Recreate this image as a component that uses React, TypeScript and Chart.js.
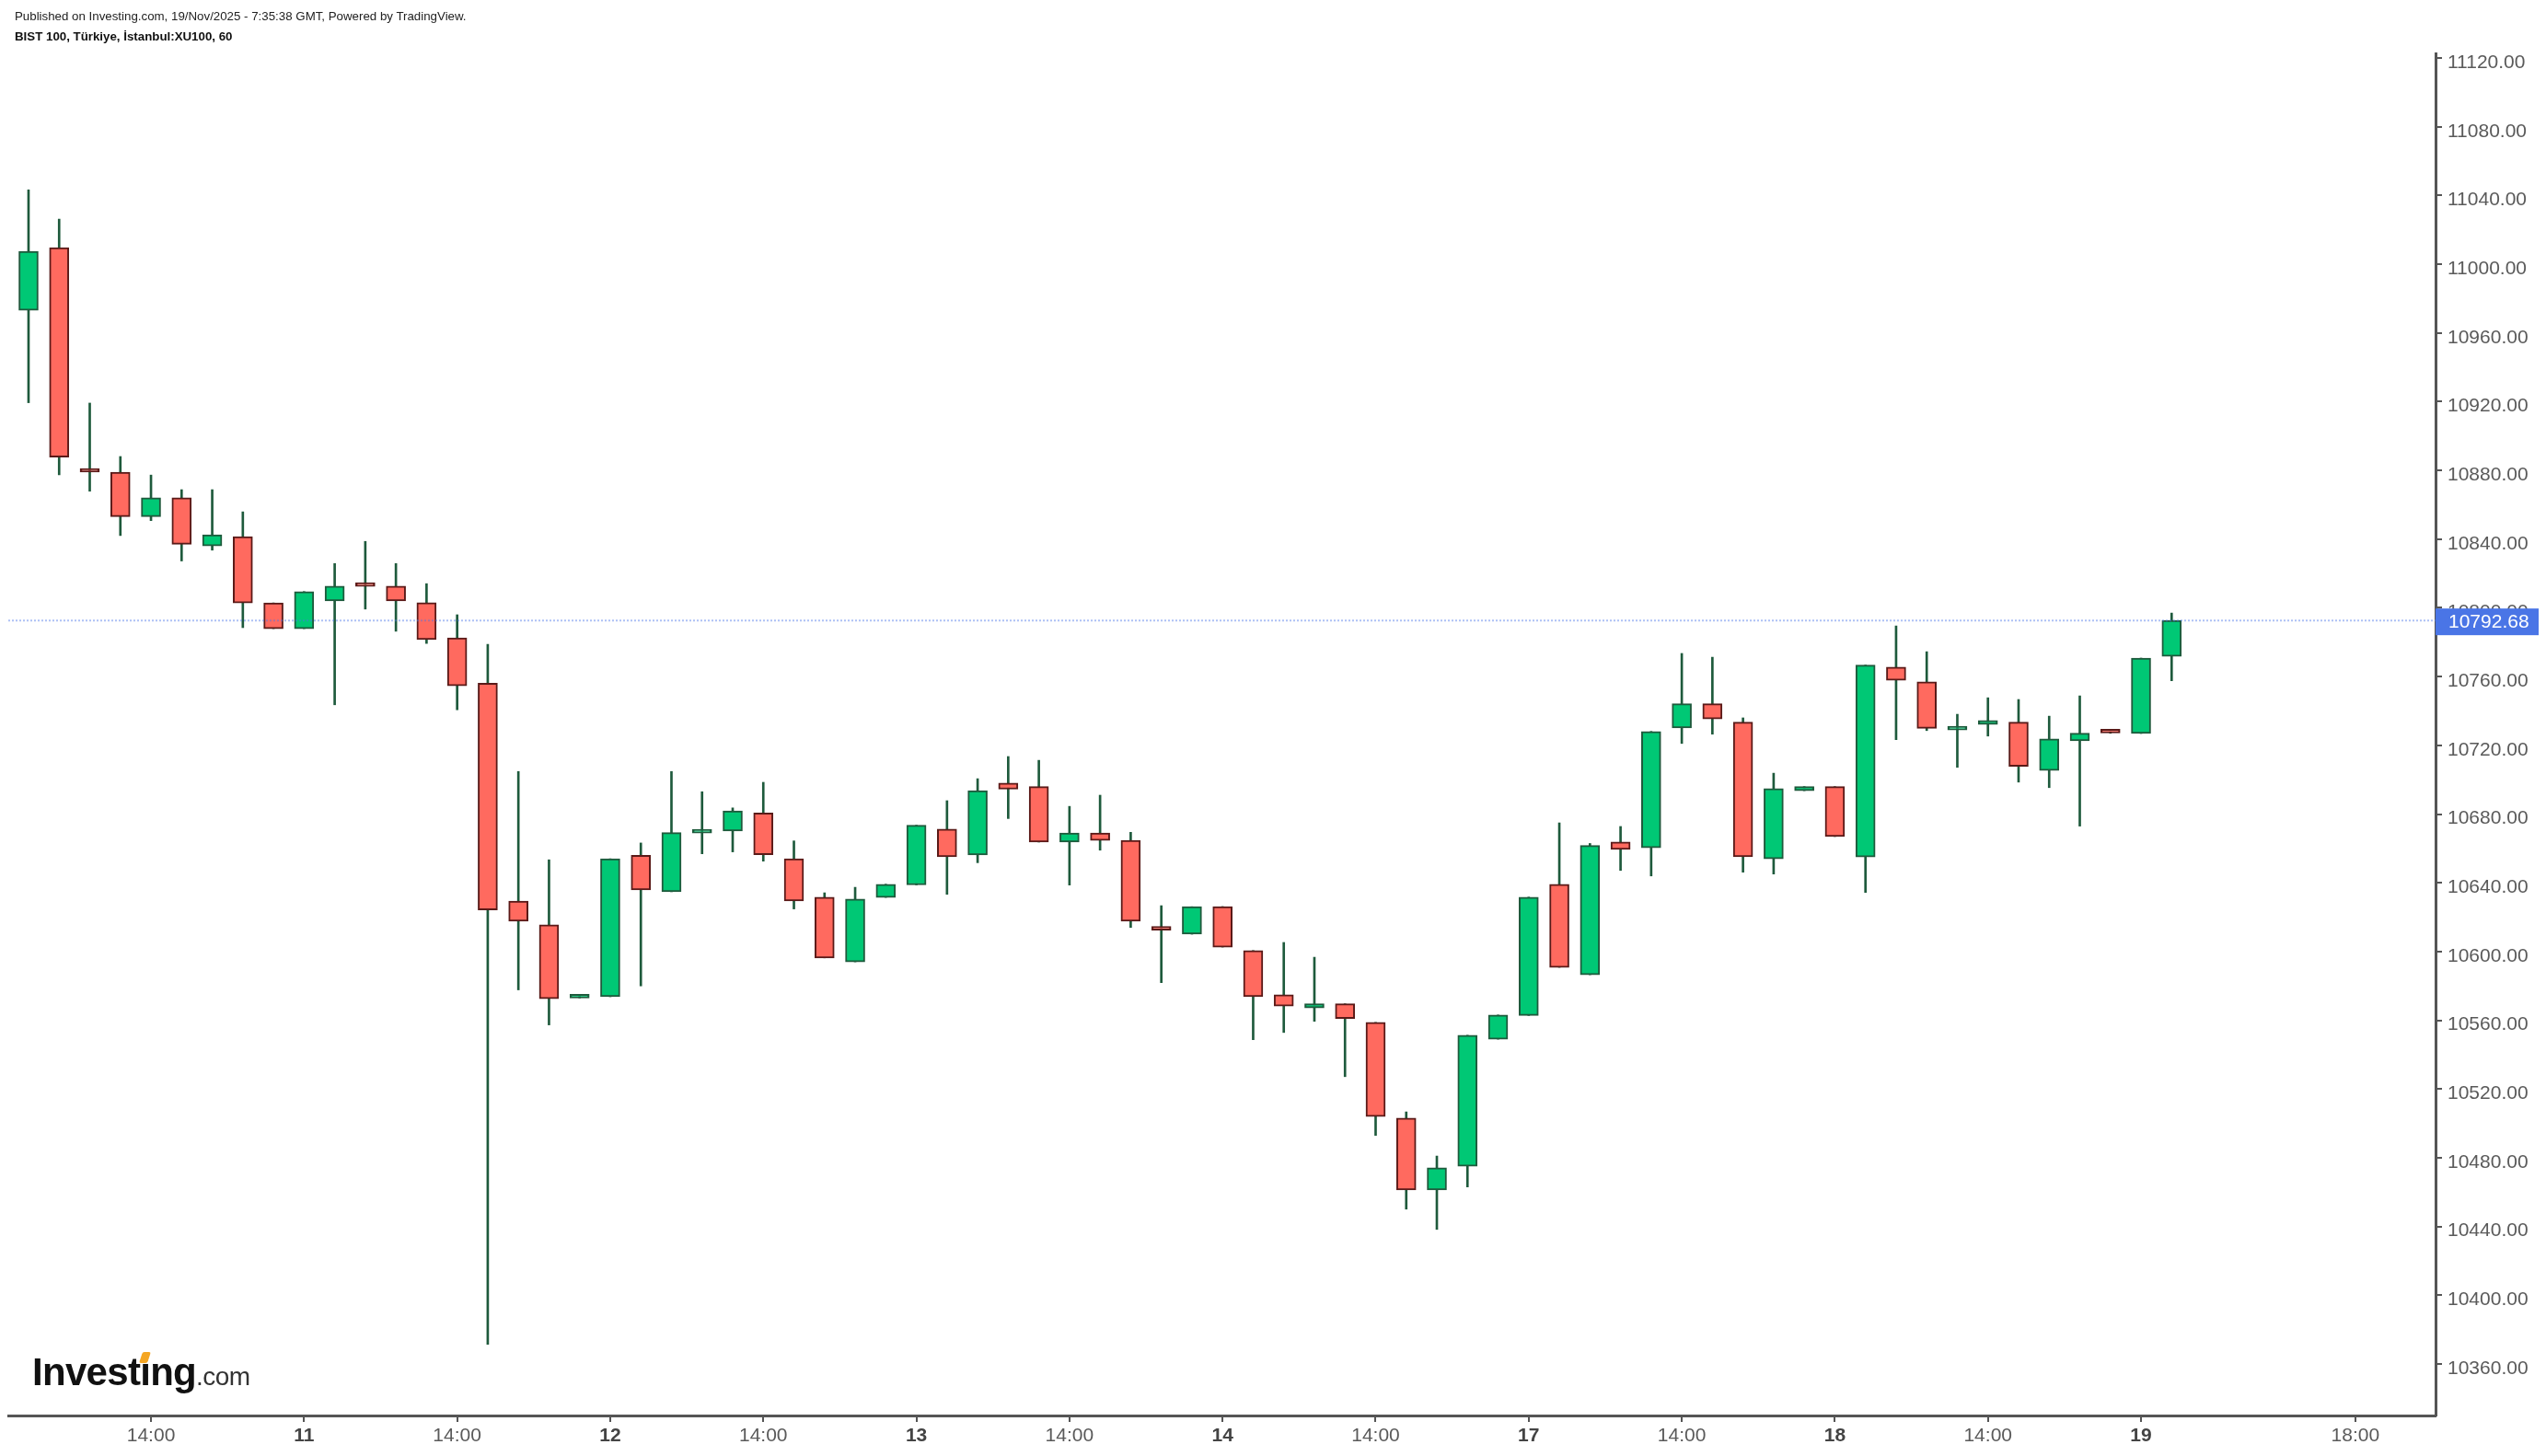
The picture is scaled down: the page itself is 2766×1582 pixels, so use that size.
import React, { useEffect, useRef } from 'react';
import { Chart, registerables } from 'chart.js';

Chart.register(...registerables);

// Hourly candles, bar index 1..71 (10 bars per trading day, day 10 Nov starts at index 0)
const opens = [
  10973.2, 11009.6, 10880.5, 10879.0, 10853.1, 10864.1, 10836.0, 10841.5, 10802.9, 10787.9,
  10804.0, 10814.0, 10812.7, 10803.0, 10782.5, 10756.2, 10629.4, 10615.6, 10573.0, 10573.7,
  10656.0, 10634.8, 10669.0, 10670.1, 10680.7, 10654.0, 10631.7, 10594.0, 10631.5, 10638.8,
  10671.3, 10656.2, 10698.1, 10696.0, 10663.7, 10669.0, 10664.7, 10614.0, 10610.1, 10626.2,
  10600.6, 10574.9, 10567.2, 10569.6, 10558.8, 10503.1, 10461.2, 10475.1, 10549.0, 10562.8,
  10639.2, 10586.5, 10663.8, 10660.4, 10730.1, 10744.2, 10733.5, 10654.0, 10693.6, 10696.0,
  10655.0, 10765.5, 10757.0, 10729.0, 10732.2, 10733.5, 10705.4, 10722.6, 10728.0, 10726.9,
  10771.8,
];
const highs = [
  11043.3, 11026.2, 10919.2, 10888.1, 10877.3, 10868.8, 10868.8, 10855.9, 10802.9, 10809.5,
  10825.8, 10838.7, 10825.8, 10814.1, 10796.0, 10778.8, 10704.8, 10653.4, 10574.0, 10654.0,
  10663.2, 10704.8, 10693.0, 10683.6, 10698.5, 10664.4, 10634.2, 10637.4, 10639.2, 10673.5,
  10687.8, 10700.6, 10713.5, 10711.3, 10684.5, 10691.0, 10669.4, 10626.7, 10626.1, 10626.2,
  10600.6, 10605.3, 10596.7, 10569.6, 10558.8, 10506.7, 10481.0, 10551.3, 10563.1, 10631.7,
  10674.9, 10662.9, 10672.8, 10728.1, 10773.5, 10771.3, 10736.0, 10703.8, 10696.0, 10696.0,
  10766.7, 10789.5, 10774.5, 10738.1, 10747.7, 10746.7, 10737.0, 10748.8, 10728.0, 10770.8,
  10797.0,
];
const lows = [
  10919.4, 10877.5, 10867.9, 10842.1, 10850.8, 10827.3, 10833.6, 10788.5, 10787.9, 10787.9,
  10743.6, 10799.3, 10786.4, 10779.3, 10740.7, 10371.4, 10577.7, 10557.3, 10573.0, 10573.7,
  10580.0, 10634.8, 10656.9, 10658.0, 10652.6, 10624.8, 10596.3, 10594.0, 10631.5, 10638.8,
  10633.3, 10651.7, 10677.4, 10663.7, 10638.7, 10659.0, 10614.0, 10581.9, 10610.1, 10602.6,
  10548.7, 10552.9, 10559.4, 10527.2, 10493.0, 10450.1, 10438.3, 10463.0, 10549.0, 10562.8,
  10590.8, 10586.5, 10647.2, 10644.0, 10721.1, 10726.5, 10646.2, 10645.1, 10693.6, 10666.9,
  10634.4, 10723.3, 10728.6, 10707.2, 10725.4, 10698.6, 10695.4, 10673.0, 10727.0, 10726.9,
  10757.6,
];
const closes = [
  11007.5, 10887.7, 10879.0, 10853.1, 10864.1, 10837.0, 10842.5, 10802.9, 10787.9, 10809.5,
  10812.7, 10812.5, 10804.0, 10781.5, 10754.7, 10624.2, 10617.6, 10572.5, 10574.0, 10654.0,
  10635.9, 10669.2, 10670.0, 10681.8, 10656.3, 10629.4, 10596.3, 10630.6, 10639.2, 10673.5,
  10655.1, 10693.6, 10694.5, 10663.7, 10669.0, 10664.7, 10617.6, 10612.5, 10626.1, 10602.6,
  10573.7, 10568.3, 10569.6, 10561.0, 10504.0, 10461.2, 10474.2, 10551.3, 10563.1, 10631.7,
  10590.8, 10661.7, 10659.4, 10728.1, 10744.2, 10735.3, 10655.1, 10694.9, 10696.0, 10666.9,
  10766.7, 10757.9, 10729.9, 10730.0, 10734.5, 10707.8, 10723.8, 10727.1, 10727.2, 10770.8,
  10792.68,
];
const firstBarIndex = 1;

const xTickPositions = [5, 10, 15, 20, 25, 30, 35, 40, 45, 50, 55, 60, 65, 70, 77];
const xTickLabels = ['14:00', '11', '14:00', '12', '14:00', '13', '14:00', '14', '14:00', '17', '14:00', '18', '14:00', '19', '18:00'];
const yTickValues = [
  10360, 10400, 10440, 10480, 10520, 10560, 10600, 10640, 10680, 10720,
  10760, 10800, 10840, 10880, 10920, 10960, 11000, 11040, 11080, 11120,
];
const lastPrice = 10792.68;

const titleLine1 = 'Published on Investing.com, 19/Nov/2025 - 7:35:38 GMT, Powered by TradingView.';
const titleLine2 = 'BIST 100, Türkiye, İstanbul:XU100, 60';

const FONT = '"Liberation Sans", Arial, Helvetica, sans-serif';
const UP_FILL = '#00c875';
const DOWN_FILL = '#ff6a5f';
const UP_EDGE = '#1e5a3c';
const DOWN_EDGE = '#5a1a18';
const WICK = '#1e5a3c';
const AXIS = '#555555';

const priceTag = {
  id: 'priceTag',
  afterDraw(chart: any) {
    const { ctx, chartArea, scales } = chart;
    const y = scales.y.getPixelForValue(lastPrice);
    ctx.save();
    ctx.fillStyle = '#4a75e6';
    ctx.fillRect(chartArea.right, y - 13, chart.width - chartArea.right, 29);
    ctx.fillStyle = '#ffffff';
    ctx.font = `21px ${FONT}`;
    ctx.textBaseline = 'middle';
    ctx.textAlign = 'left';
    ctx.fillText(lastPrice.toFixed(2), chartArea.right + 14, y + 2);
    ctx.restore();
  },
};

export default function App() {
  const canvasRef = useRef<HTMLCanvasElement | null>(null);

  useEffect(() => {
    if (!canvasRef.current) return;
    Chart.defaults.font.family = FONT;
    const idx = opens.map((_, k) => k + firstBarIndex);
    const isUp = opens.map((o, k) => closes[k] >= o);
    const xMin = 0.339;
    const xMax = 79.62;

    const chart = new Chart(canvasRef.current, {
      type: 'bar',
      data: {
        datasets: [
          {
            type: 'line',
            label: 'last',
            data: [
              { x: xMin, y: lastPrice },
              { x: xMax, y: lastPrice },
            ],
            borderColor: 'rgba(74,117,233,0.45)',
            borderWidth: 2,
            borderDash: [2, 2],
            pointRadius: 0,
            order: 0,
          } as any,
          {
            label: 'body',
            data: idx.map((x, k) => ({ x, y: [opens[k], closes[k]] })),
            backgroundColor: isUp.map((u) => (u ? UP_FILL : DOWN_FILL)),
            borderColor: isUp.map((u) => (u ? UP_EDGE : DOWN_EDGE)),
            borderWidth: 2,
            borderSkipped: false,
            barThickness: 21,
            minBarLength: 4,
            grouped: false,
            order: 1,
          } as any,
          {
            label: 'wick',
            data: idx.map((x, k) => ({ x, y: [lows[k], highs[k]] })),
            backgroundColor: WICK,
            borderWidth: 0,
            barThickness: 2,
            grouped: false,
            order: 2,
          } as any,
        ],
      },
      options: {
        animation: false,
        responsive: false,
        maintainAspectRatio: false,
        layout: { padding: { top: 50, left: 1, right: 0, bottom: 0 } },
        plugins: {
          legend: { display: false },
          tooltip: { enabled: false },
          title: { display: false },
        },
        scales: {
          x: {
            type: 'linear',
            min: xMin,
            max: xMax,
            offset: false,
            grid: {
              display: true,
              offset: false,
              drawOnChartArea: false,
              drawTicks: true,
              tickLength: 7,
              color: AXIS,
              lineWidth: 2,
            },
            border: { display: true, color: AXIS, width: 3 },
            afterBuildTicks: (s: any) => {
              s.ticks = xTickPositions.map((v) => ({ value: v }));
            },
            afterFit: (s: any) => {
              s.height = 36;
            },
            ticks: {
              autoSkip: false,
              maxRotation: 0,
              minRotation: 0,
              padding: 3,
              color: (ctx: any) => (/:/.test(xTickLabels[ctx.index] || '') ? '#5a5a5a' : '#444444'),
              font: (ctx: any) => ({
                family: FONT,
                size: 21,
                weight: /:/.test(xTickLabels[ctx.index] || '') ? 'normal' : 'bold',
              }),
              callback: (_v: any, i: number) => xTickLabels[i],
            },
          } as any,
          y: {
            type: 'linear',
            position: 'right',
            min: 10330,
            max: 11122.7,
            grid: {
              display: true,
              offset: false,
              drawOnChartArea: false,
              drawTicks: true,
              tickLength: 7,
              color: AXIS,
              lineWidth: 2,
            },
            border: { display: true, color: AXIS, width: 3 },
            afterBuildTicks: (s: any) => {
              s.ticks = yTickValues.map((v) => ({ value: v }));
            },
            afterFit: (s: any) => {
              s.width = 112;
            },
            ticks: {
              padding: 6,
              labelOffset: 5,
              color: '#5a5a5a',
              font: { family: FONT, size: 21 },
              callback: (v: any) => Number(v).toFixed(2),
            },
          } as any,
        },
      },
      plugins: [priceTag],
    });
    return () => chart.destroy();
  }, []);

  return (
    <div style={{ position: 'relative', width: 2750, height: 1566, fontFamily: FONT, background: '#fff' }}>
      <canvas ref={canvasRef} width={2750} height={1566} style={{ position: 'absolute', left: 0, top: 0, width: 2750, height: 1566 }} />
      <div style={{ position: 'absolute', left: 8, top: 2, fontSize: 13.3, lineHeight: '15px', color: '#222', whiteSpace: 'nowrap' }}>
        {titleLine1}
      </div>
      <div style={{ position: 'absolute', left: 8, top: 24, fontSize: 13.3, lineHeight: '15px', color: '#111', fontWeight: 'bold', whiteSpace: 'nowrap' }}>
        {titleLine2}
      </div>
      <div style={{ position: 'absolute', left: 27, top: 1462, whiteSpace: 'nowrap', lineHeight: '42px', height: 42 }}>
        <span style={{ fontSize: 42, fontWeight: 'bold', letterSpacing: -0.7, color: '#111' }}>Investing</span>
        <span style={{ fontSize: 28, letterSpacing: -0.6, color: '#333' }}>.com</span>
      </div>
      <div style={{ position: 'absolute', left: 145, top: 1461, width: 9, height: 12, background: '#f5a623', borderRadius: 2, transform: 'skewX(-18deg)' }} />
    </div>
  );
}
